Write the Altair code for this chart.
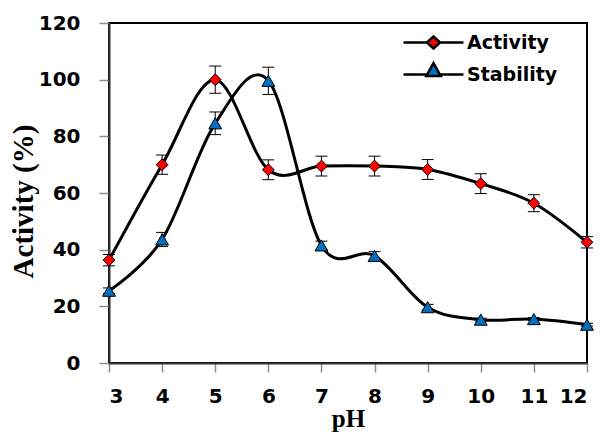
import altair as alt
import pandas as pd

ph = [3, 4, 5, 6, 7, 8, 9, 10, 11, 12]
activity = [36.3, 70, 100, 68.2, 69.5, 69.5, 68.3, 63.3, 56.4, 42.6]
activity_err = [2, 3.4, 4.8, 3.5, 3.5, 3.5, 3.5, 3.5, 3, 2]
stability = [25.5, 43.6, 84.6, 99.6, 41.5, 37.8, 19.7, 15.3, 15.5, 13.5]
stability_err = [1, 2.5, 4, 4.8, 1.5, 1.5, 1, 0.5, 0.5, 0.5]
series_names = ["Activity", "Stability"]
fill_colors = ["#ff0000", "#0070c0"]
point_shapes = ["diamond", "triangle-up"]
legend_shapes = [
    "M-5,0H-1.1M1.1,0H5M-1.1,0L0,-1L1.1,0L0,1Z",
    "M-5,0H-1.06M1.06,0H5M0,-1.9L1.2,0.25L-1.2,0.25Z",
]
x_ticks = ph
y_ticks = [0, 20, 40, 60, 80, 100, 120]

rows = []
for name, vals, errs in [("Activity", activity, activity_err), ("Stability", stability, stability_err)]:
    for p, v, e in zip(ph, vals, errs):
        rows.append({"pH": p, "value": v, "lo": v - e, "hi": v + e, "series": name})
df = pd.DataFrame(rows)

x_enc = alt.X("pH:Q", title="pH", scale=alt.Scale(domain=[3, 12], nice=False, zero=False),
              axis=alt.Axis(values=x_ticks, format="d"))
y_title = "Activity (%)"
y_scale = alt.Scale(domain=[0, 120], nice=False)
y_axis = alt.Axis(values=y_ticks, format="d")

base = alt.Chart(df)

err_rule = base.mark_rule(color="black", strokeWidth=1).encode(
    x=x_enc,
    y=alt.Y("lo:Q", title=y_title, scale=y_scale, axis=y_axis),
    y2="hi:Q",
)
cap_lo = base.mark_tick(color="black", thickness=1, size=12, orient="horizontal", opacity=1).encode(
    x=x_enc, y=alt.Y("lo:Q", title=y_title, scale=y_scale, axis=y_axis)
)
cap_hi = base.mark_tick(color="black", thickness=1, size=12, orient="horizontal", opacity=1).encode(
    x=x_enc, y=alt.Y("hi:Q", title=y_title, scale=y_scale, axis=y_axis)
)
lines = base.mark_line(color="black", strokeWidth=3, interpolate="cardinal", tension=0).encode(
    x=x_enc,
    y=alt.Y("value:Q", title=y_title, scale=y_scale, axis=y_axis),
    detail="series:N",
)

point_layers = []
for name, shp, col, sz in zip(series_names, point_shapes, fill_colors, [140, 165]):
    point_layers.append(
        base.transform_filter(alt.datum.series == name).mark_point(
            filled=True, fill=col, stroke="black", strokeWidth=1, opacity=1, size=sz, shape=shp
        ).encode(
            x=x_enc,
            y=alt.Y("value:Q", title=y_title, scale=y_scale, axis=y_axis),
        )
    )

legend = alt.Legend(
    orient="none", legendX=315, legendY=10, padding=0, title=None,
    labelFont="DejaVu Sans", labelFontSize=19, labelFontWeight="bold",
    labelColor="black", labelOffset=24, rowPadding=4,
    symbolSize=144, symbolStrokeWidth=2.5, symbolOpacity=1,
)
legend_layer = base.transform_filter("false").mark_point(
    filled=True, strokeWidth=2.5, opacity=1, size=144
).encode(
    x=x_enc,
    y=alt.Y("value:Q", title=y_title, scale=y_scale, axis=y_axis),
    fill=alt.Fill("series:N", title=None, scale=alt.Scale(domain=series_names, range=fill_colors), legend=legend),
    stroke=alt.Stroke("series:N", title=None, scale=alt.Scale(domain=series_names, range=["black", "black"]), legend=legend),
    shape=alt.Shape("series:N", title=None, scale=alt.Scale(domain=series_names, range=legend_shapes), legend=legend),
)

chart = alt.layer(err_rule, cap_lo, cap_hi, lines, *point_layers, legend_layer).properties(
    width=478, height=340,
    autosize=alt.AutoSizeParams(type="none"),
    padding={"left": 101, "top": 15, "right": 11, "bottom": 69},
    background="white",
).configure_view(
    stroke="black", strokeWidth=2
).configure_axis(
    grid=False,
    labelFont="DejaVu Sans", labelFontSize=20, labelFontWeight="bold", labelColor="black",
    tickColor="#8c8c8c", tickWidth=1.5, domainColor="#333333", domainWidth=2,
    titleFont="Liberation Serif", titleFontWeight="bold", titleColor="black",
).configure_axisX(
    tickSize=9, labelPadding=14, titleFontSize=25, titlePadding=0,
).configure_axisY(
    tickSize=10, labelPadding=19, titleFontSize=29, titlePadding=0, titleY=178,
)

chart.save("out.html", embed_options={"renderer": "svg", "actions": False})
